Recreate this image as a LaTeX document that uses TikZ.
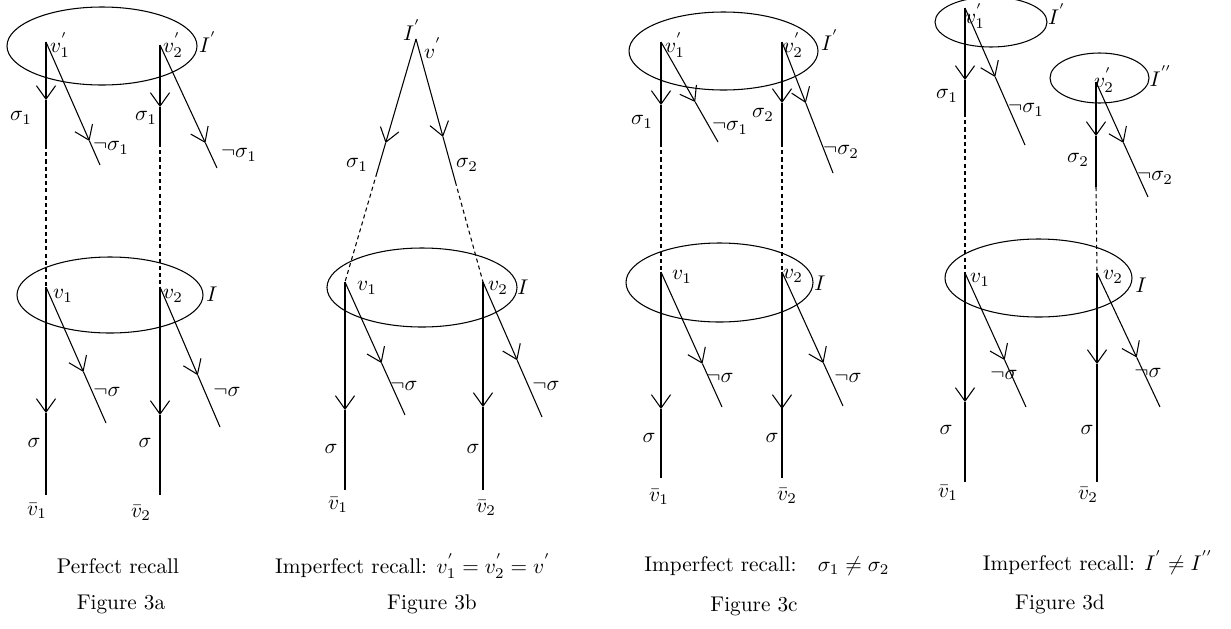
\documentclass[tikz,border=0pt]{standalone}
\usetikzlibrary{arrows.meta,calc}
\tikzset{
  ln/.style={line width=0.5pt},
  thk/.style={line width=1.4pt},
  arr/.style={ln,-{Straight Barb[length=6.3pt,width=9pt]}},
  dsh/.style={ln,dash pattern=on 1.9pt off 1.5pt},
  lbl/.style={inner sep=0pt,outer sep=0pt},
  oval/.style={ln}
}
\newcommand{\arrline}[3]{\draw[arr] (#1) -- (#2); \draw[ln] (#2) -- (#3);}
\begin{document}
\begin{tikzpicture}[x=0.47pt,y=-0.47pt]
\useasboundingbox (0,0) rectangle (1231,628);

%%%%%%%%%%%%%%%% Figure 3a
\draw[oval] (102,46) ellipse [x radius=95, y radius=39];
\draw[oval] (110,295) ellipse [x radius=93, y radius=38];
\coordinate (aT1) at (46,42);
\coordinate (aT2) at (160,45);
\coordinate (aB1) at (46,287);
\coordinate (aB2) at (160,287);
% top vertex 1
\coordinate (aT1t) at (46,100); \coordinate (aT1e) at (46,145);
\arrline{aT1}{aT1t}{aT1e} \draw[dsh] (aT1e) -- (aB1);
\coordinate (aT1d) at (100,165); \coordinate (aT1dt) at ($(aT1)!0.805!(aT1d)$);
\arrline{aT1}{aT1dt}{aT1d}
% top vertex 2
\coordinate (aT2t) at (160,107); \coordinate (aT2e) at (160,143);
\arrline{aT2}{aT2t}{aT2e} \draw[dsh] (aT2e) -- (aB2);
\coordinate (aT2d) at (217,168); \coordinate (aT2dt) at ($(aT2)!0.797!(aT2d)$);
\arrline{aT2}{aT2dt}{aT2d}
% bottom vertex 1
\coordinate (aB1t) at (46,413); \coordinate (aB1e) at (46,495);
\arrline{aB1}{aB1t}{aB1e}
\coordinate (aB1d) at (106,423); \coordinate (aB1dt) at ($(aB1)!0.625!(aB1d)$);
\arrline{aB1}{aB1dt}{aB1d}
% bottom vertex 2
\coordinate (aB2t) at (160,415); \coordinate (aB2e) at (160,495);
\arrline{aB2}{aB2t}{aB2e}
\coordinate (aB2d) at (220,427); \coordinate (aB2dt) at ($(aB2)!0.63!(aB2d)$);
\arrline{aB2}{aB2dt}{aB2d}
% labels
\node[lbl] (aLt1) at (60,45) {$v^{'}_1$};
\node[lbl] (aLt2) at (173,45) {$v^{'}_2$};
\node[lbl] (aLIp) at (208,42) {$I^{'}$};
\node[lbl] (aLs1) at (21,118) {$\sigma_1$};
\node[lbl] (aLs1b) at (146,118) {$\sigma_1$};
\node[lbl] (aLn1) at (111,148) {$\neg\sigma_1$};
\node[lbl] (aLn1b) at (239,155) {$\neg\sigma_1$};
\node[lbl] (aLb1) at (63,296) {$v_1$};
\node[lbl] (aLb2) at (173,296) {$v_2$};
\node[lbl] (aLI) at (212,294) {$I$};
\node[lbl] (aLn) at (107,392) {$\neg\sigma$};
\node[lbl] (aLnb) at (227,392) {$\neg\sigma$};
\node[lbl] (aLs) at (34,443) {$\sigma$};
\node[lbl] (aLsb) at (145,443) {$\sigma$};
\node[lbl] (aLe1) at (37,511) {$\bar{v}_1$};
\node[lbl] (aLe2) at (141,513) {$\bar{v}_2$};
\node[lbl] (aCap) at (118,566) {Perfect recall};
\node[lbl] (aFig) at (121,604) {Figure 3a};

%%%%%%%%%%%%%%%% Figure 3b
\draw[oval] (422,287.5) ellipse [x radius=95, y radius=39.5];
\coordinate (bT) at (416,39);
\coordinate (bB1) at (345,282);
\coordinate (bB2) at (483,282);
\coordinate (bLt) at ($(bT)!0.428!(bB1)$); \coordinate (bLe) at ($(bT)!0.551!(bB1)$);
\arrline{bT}{bLt}{bLe} \draw[dsh] (bLe) -- (bB1);
\coordinate (bRt) at ($(bT)!0.403!(bB2)$); \coordinate (bRe) at ($(bT)!0.588!(bB2)$);
\arrline{bT}{bRt}{bRe} \draw[dsh] (bRe) -- (bB2);
\coordinate (bB1t) at (345,410); \coordinate (bB1e) at (345,490);
\arrline{bB1}{bB1t}{bB1e}
\coordinate (bB1d) at (405,415); \coordinate (bB1dt) at ($(bB1)!0.61!(bB1d)$);
\arrline{bB1}{bB1dt}{bB1d}
\coordinate (bB2t) at (483,407); \coordinate (bB2e) at (483,490);
\arrline{bB2}{bB2t}{bB2e}
\coordinate (bB2d) at (542,417); \coordinate (bB2dt) at ($(bB2)!0.58!(bB2d)$);
\arrline{bB2}{bB2dt}{bB2d}
\node[lbl] (bLIp) at (412,30) {$I^{'}$};
\node[lbl] (bLvp) at (433,48) {$v^{'}$};
\node[lbl] (bLs1) at (357,165) {$\sigma_1$};
\node[lbl] (bLs2) at (467,165) {$\sigma_2$};
\node[lbl] (bLb1) at (367,288) {$v_1$};
\node[lbl] (bLb2) at (498,288) {$v_2$};
\node[lbl] (bLI) at (523,287) {$I$};
\node[lbl] (bLn) at (404,386) {$\neg\sigma$};
\node[lbl] (bLnb) at (546,386) {$\neg\sigma$};
\node[lbl] (bLs) at (331,449) {$\sigma$};
\node[lbl] (bLsb) at (473,449) {$\sigma$};
\node[lbl] (bLe1) at (338,505) {$\bar{v}_1$};
\node[lbl] (bLe2) at (486,508) {$\bar{v}_2$};
\node[lbl] (bCap) at (413,566) {Imperfect recall: $v^{'}_1=v^{'}_2=v^{'}$};
\node[lbl] (bFig) at (432,604) {Figure 3b};

%%%%%%%%%%%%%%%% Figure 3c
\draw[oval] (723.5,51) ellipse [x radius=94.5, y radius=39];
\draw[oval] (719.5,282.5) ellipse [x radius=93.5, y radius=39.5];
\coordinate (cT1) at (661,42);
\coordinate (cT2) at (782,42);
\coordinate (cB1) at (661,272);
\coordinate (cB2) at (782,272);
\coordinate (cT1t) at (661,105); \coordinate (cT1e) at (661,143);
\arrline{cT1}{cT1t}{cT1e} \draw[dsh] (cT1e) -- (cB1);
\coordinate (cT1d) at (718,142); \coordinate (cT1dt) at ($(cT1)!0.6!(cT1d)$);
\arrline{cT1}{cT1dt}{cT1d}
\coordinate (cT2t) at (782,103); \coordinate (cT2e) at (782,143);
\arrline{cT2}{cT2t}{cT2e} \draw[dsh] (cT2e) -- (cB2);
\coordinate (cT2d) at (833,173); \coordinate (cT2dt) at ($(cT2)!0.466!(cT2d)$);
\arrline{cT2}{cT2dt}{cT2d}
\coordinate (cB1t) at (661,409); \coordinate (cB1e) at (661,478);
\arrline{cB1}{cB1t}{cB1e}
\coordinate (cB1d) at (722,407); \coordinate (cB1dt) at ($(cB1)!0.68!(cB1d)$);
\arrline{cB1}{cB1dt}{cB1d}
\coordinate (cB2t) at (782,409); \coordinate (cB2e) at (782,478);
\draw[thk] (cB2) -- (cB2e);
\draw[arr] (cB2) -- (cB2t);
\coordinate (cB2d) at (843,406); \coordinate (cB2dt) at ($(cB2)!0.68!(cB2d)$);
\arrline{cB2}{cB2dt}{cB2d}
\node[lbl] (cLt1) at (675,45) {$v^{'}_1$};
\node[lbl] (cLt2) at (793,45) {$v^{'}_2$};
\node[lbl] (cLIp) at (830,40) {$I^{'}$};
\node[lbl] (cLs1) at (642,122) {$\sigma_1$};
\node[lbl] (cLs2) at (763,115) {$\sigma_2$};
\node[lbl] (cLn1) at (730,128) {$\neg\sigma_1$};
\node[lbl] (cLn2) at (841,152) {$\neg\sigma_2$};
\node[lbl] (cLb1) at (682,277) {$v_1$};
\node[lbl] (cLb2) at (793,276) {$v_2$};
\node[lbl] (cLI) at (820,283) {$I$};
\node[lbl] (cLn) at (720,378) {$\neg\sigma$};
\node[lbl] (cLnb) at (848,378) {$\neg\sigma$};
\node[lbl] (cLs) at (649,438) {$\sigma$};
\node[lbl] (cLsb) at (772,438) {$\sigma$};
\node[lbl] (cLe1) at (659,497) {$\bar{v}_1$};
\node[lbl] (cLe2) at (787,496) {$\bar{v}_2$};
\node[lbl] (cCap) at (767,566) {Imperfect recall:\quad$\sigma_1\neq\sigma_2$};
\node[lbl] (cFig) at (754,606) {Figure 3c};

%%%%%%%%%%%%%%%% Figure 3d
\draw[oval] (991,22) ellipse [x radius=56, y radius=25];
\draw[oval] (1099.5,78) ellipse [x radius=49.5, y radius=25];
\draw[oval] (1038.5,278) ellipse [x radius=93.5, y radius=39];
\coordinate (dT1) at (965,8);
\coordinate (dT2) at (1096,82);
\coordinate (dB1) at (965,273);
\coordinate (dB2) at (1097,273);
\coordinate (dT1t) at (965,80); \coordinate (dT1e) at (965,113);
\arrline{dT1}{dT1t}{dT1e} \draw[dsh] (dT1e) -- (dB1);
\coordinate (dT1d) at (1025,145); \coordinate (dT1dt) at ($(dT1)!0.504!(dT1d)$);
\arrline{dT1}{dT1dt}{dT1d}
\coordinate (dT2t) at (1096,136); \coordinate (dT2e) at (1096,187);
\arrline{dT2}{dT2t}{dT2e} \draw[dsh] (dT2e) -- (dB2);
\coordinate (dT2d) at (1148,197); \coordinate (dT2dt) at ($(dT2)!0.53!(dT2d)$);
\arrline{dT2}{dT2dt}{dT2d}
\coordinate (dB1t) at (965,402); \coordinate (dB1e) at (965,482);
\arrline{dB1}{dB1t}{dB1e}
\coordinate (dB1d) at (1026,407); \coordinate (dB1dt) at ($(dB1)!0.65!(dB1d)$);
\arrline{dB1}{dB1dt}{dB1d}
\coordinate (dB2t) at (1097,364); \coordinate (dB2e) at (1097,482);
\arrline{dB2}{dB2t}{dB2e}
\coordinate (dB2d) at (1160,407); \coordinate (dB2dt) at ($(dB2)!0.63!(dB2d)$);
\arrline{dB2}{dB2dt}{dB2d}
\node[lbl] (dLt1) at (975,16) {$v^{'}_1$};
\node[lbl] (dLIp) at (1057,14) {$I^{'}$};
\node[lbl] (dLs1) at (947,96) {$\sigma_1$};
\node[lbl] (dLn1) at (1026,110) {$\neg\sigma_1$};
\node[lbl] (dLt2) at (1104,80) {$v^{'}_2$};
\node[lbl] (dLIpp) at (1161,76) {$I^{''}$};
\node[lbl] (dLs2) at (1078,160) {$\sigma_2$};
\node[lbl] (dLn2) at (1155,178) {$\neg\sigma_2$};
\node[lbl] (dLb1) at (980,280) {$v_1$};
\node[lbl] (dLb2) at (1113,277) {$v_2$};
\node[lbl] (dLI) at (1141,285) {$I$};
\node[lbl] (dLn) at (1004,375) {$\neg\sigma$};
\node[lbl] (dLnb) at (1148,373) {$\neg\sigma$};
\node[lbl] (dLs) at (946,430) {$\sigma$};
\node[lbl] (dLsb) at (1087,430) {$\sigma$};
\node[lbl] (dLe1) at (948,493) {$\bar{v}_1$};
\node[lbl] (dLe2) at (1088,495) {$\bar{v}_2$};
\node[lbl] (dCap) at (1098,563) {Imperfect recall: $I^{'}\neq I^{''}$};
\node[lbl] (dFig) at (1060,604) {Figure 3d};
\end{tikzpicture}
\end{document}
